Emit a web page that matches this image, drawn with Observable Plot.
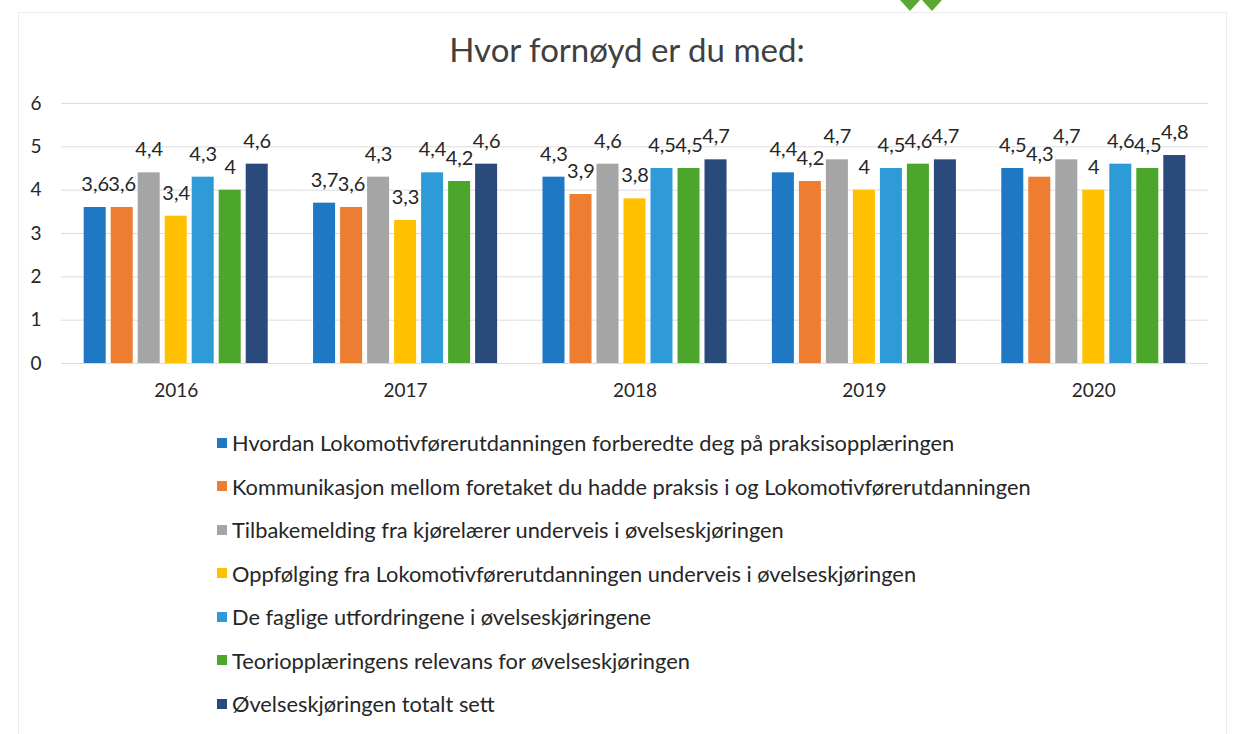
<!DOCTYPE html>
<html><head><meta charset="utf-8">
<script src="https://cdn.jsdelivr.net/npm/d3@7"></script>
<script src="https://cdn.jsdelivr.net/npm/@observablehq/plot@0.6"></script>
<style>
body{margin:0;background:#fff;font-family:Lato,"Open Sans",sans-serif;width:1236px;height:734px;position:relative;overflow:hidden}
#frame{position:absolute;left:18px;top:12px;width:1207px;height:740px;border:1px solid #ececec}
#deco{position:absolute;left:900px;top:0}
#title{position:absolute;top:29px;left:627px;transform:translateX(-50%);font-size:33px;color:#404040;white-space:nowrap}
#chart{position:absolute;top:80px;left:0}
#legend{position:absolute;left:217px;top:421px}
.row{height:43.5px;display:flex;align-items:center;font-size:21.8px;color:#262626;white-space:nowrap}
.sw{width:10px;height:10px;margin-right:5px;flex:none}
</style></head>
<body>
<div id="frame"></div>
<svg id="deco" width="50" height="12"><polygon points="0,0 20,0 10,11" fill="#5aa832"/><polygon points="22,0 42,0 32,11" fill="#5aa832"/></svg>
<div id="title">Hvor fornøyd er du med:</div>
<div id="chart"></div>
<div id="legend"></div>
<script>
const years = ["2016", "2017", "2018", "2019", "2020"];
const series = [
  "Hvordan Lokomotivførerutdanningen forberedte deg på praksisopplæringen",
  "Kommunikasjon mellom foretaket du hadde praksis i og Lokomotivførerutdanningen",
  "Tilbakemelding fra kjørelærer underveis i øvelseskjøringen",
  "Oppfølging fra Lokomotivførerutdanningen underveis i øvelseskjøringen",
  "De faglige utfordringene i øvelseskjøringene",
  "Teoriopplæringens relevans for øvelseskjøringen",
  "Øvelseskjøringen totalt sett"
];
const colors = ["#1f78c4", "#ed7d31", "#a5a5a5", "#ffc000", "#2e9ad8", "#4ca62c", "#2a4a7c"];
const values2016 = [3.6, 3.6, 4.4, 3.4, 4.3, 4.0, 4.6];
const values2017 = [3.7, 3.6, 4.3, 3.3, 4.4, 4.2, 4.6];
const values2018 = [4.3, 3.9, 4.6, 3.8, 4.5, 4.5, 4.7];
const values2019 = [4.4, 4.2, 4.7, 4.0, 4.5, 4.6, 4.7];
const values2020 = [4.5, 4.3, 4.7, 4.0, 4.6, 4.5, 4.8];
const yTicks = [0, 1, 2, 3, 4, 5, 6];

const byYear = [values2016, values2017, values2018, values2019, values2020];
const data = years.flatMap((yr, i) => series.map((s, j) => ({year: yr, series: s, value: byYear[i][j]})));
const fmt = v => String(v).replace(".", ",");
const font = "Lato, 'Open Sans', sans-serif";

const chart = Plot.plot({
  width: 1236,
  height: 330,
  marginTop: 23,
  marginBottom: 47,
  marginLeft: 61,
  marginRight: 28,
  style: {fontFamily: font, color: "#262626", background: "transparent"},
  fx: {domain: years, paddingInner: 0, paddingOuter: 0, round: false, label: null},
  x: {domain: series, paddingInner: 0.185, paddingOuter: 0.84, round: false, axis: null},
  y: {domain: [0, 6], label: null},
  color: {domain: series, range: colors},
  marks: [
    Plot.ruleY(yTicks, {stroke: "#dcdcdc", strokeWidth: 1}),
    Plot.axisY(yTicks, {tickSize: 0, tickPadding: 20, fontSize: 19, label: null}),
    Plot.axisFx({anchor: "bottom", tickSize: 0, tickPadding: 20, fontSize: 19, label: null}),
    Plot.barY(data, {fx: "year", x: "series", y: "value", fill: "series"}),
    Plot.text(data, {fx: "year", x: "series", y: "value", text: d => fmt(d.value), dy: -23, fontSize: 20, fill: "#262626"})
  ]
});
document.getElementById("chart").appendChild(chart);

const legend = document.getElementById("legend");
series.forEach((s, i) => {
  const row = document.createElement("div");
  row.className = "row";
  const sw = document.createElement("span");
  sw.className = "sw";
  sw.style.background = colors[i];
  row.appendChild(sw);
  row.appendChild(document.createTextNode(s));
  legend.appendChild(row);
});
</script>
</body></html>
